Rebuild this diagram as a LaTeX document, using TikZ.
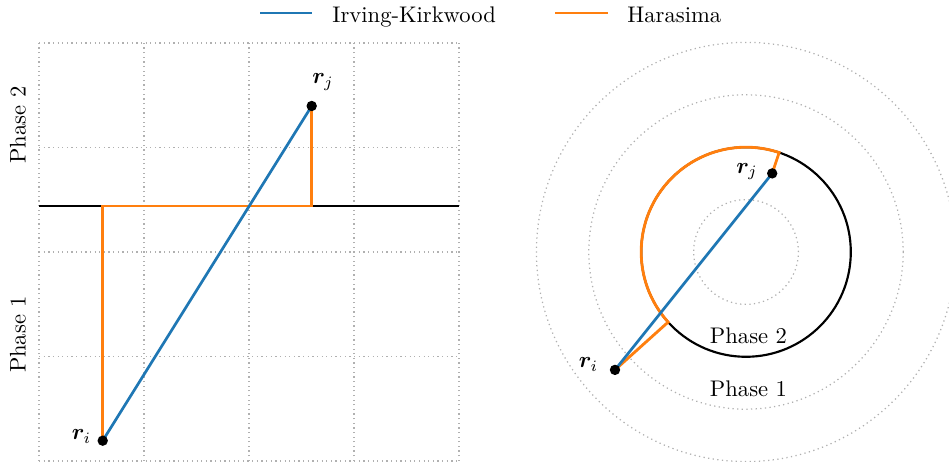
\documentclass[tikz,border=0pt]{standalone}
\usepackage{bm}
\definecolor{ikblue}{HTML}{1F77B4}
\definecolor{hsorange}{HTML}{FF7F0E}
\definecolor{gridgray}{HTML}{B0B0B0}
\begin{document}
\begin{tikzpicture}[x=0.4425pt,y=0.4425pt,
  gridline/.style={gridgray, line width=0.55pt, dash pattern=on 0.55pt off 1.5pt},
  ik/.style={ikblue, line width=1.2pt},
  hs/.style={hsorange, line width=1.25pt},
  iface/.style={black, line width=1.25pt},
  ring/.style={black, line width=0.95pt},
  dot/.style={circle, fill=black, inner sep=0pt, minimum size=4.6pt},
  lbl/.style={inner sep=0pt}
]
\useasboundingbox (0,0) rectangle (949,462);

% ---------- legend ----------
\coordinate (lbA) at (260,449);
\coordinate (lbB) at (312,449);
\coordinate (loA) at (555,449);
\coordinate (loB) at (608,449);
\draw[ik] (lbA) -- (lbB);
\draw[hs] (loA) -- (loB);
\node[lbl, anchor=base west] (legik) at (332,439) {Irving-Kirkwood};
\node[lbl, anchor=base west] (leghs) at (627,439) {Harasima};

% ---------- left panel ----------
\foreach \gx in {39,144,249,354,459} {
  \draw[gridline] (\gx,1) -- (\gx,419);
}
\foreach \gy in {1,105.5,210,314.5,419} {
  \draw[gridline] (39,\gy) -- (459,\gy);
}
\coordinate (ifl) at (39,256);
\coordinate (ifr) at (459,256);
\draw[iface] (ifl) -- (ifr);

\coordinate (ri) at (102.7,21.3);
\coordinate (rj) at (311.7,356);
\draw[hs] (ri) -- (ri |- ifl) -- (rj |- ifl) -- (rj);
\draw[ik] (ri) -- (rj);
\node[dot] (riDot) at (ri) {};
\node[dot] (rjDot) at (rj) {};

\node[lbl] (rilab) at (81.5,25.5) {$\bm{r}_i$};
\node[lbl] (rjlab) at (323,380) {$\bm{r}_j$};
\node[lbl, rotate=90] (ph2l) at (18,337) {Phase 2};
\node[lbl, rotate=90] (ph1l) at (18,127.5) {Phase 1};

% ---------- right panel ----------
\coordinate (c) at (746,210);
\draw[gridline] (c) circle[radius=52.4];
\draw[gridline] (c) circle[radius=157.2];
\draw[gridline] (c) circle[radius=209.6];
\draw[ring] (c) circle[radius=104.8];

\coordinate (ri2) at (615,92.1);
\coordinate (rj2) at (772.2,288.6);
\draw[hs] (ri2) -- ([shift={(c)}]221.99:104.8)
   arc[start angle=221.99, end angle=71.57, radius=104.8] -- (rj2);
\draw[ik] (ri2) -- (rj2);
\node[dot] (ri2Dot) at (ri2) {};
\node[dot] (rj2Dot) at (rj2) {};

\node[lbl] (ri2lab) at (588.5,97.5) {$\bm{r}_i$};
\node[lbl] (rj2lab) at (747,290.5) {$\bm{r}_j$};
\node[lbl] (ph2r) at (748.5,126) {Phase 2};
\node[lbl] (ph1r) at (748.5,73.5) {Phase 1};
\end{tikzpicture}
\end{document}
